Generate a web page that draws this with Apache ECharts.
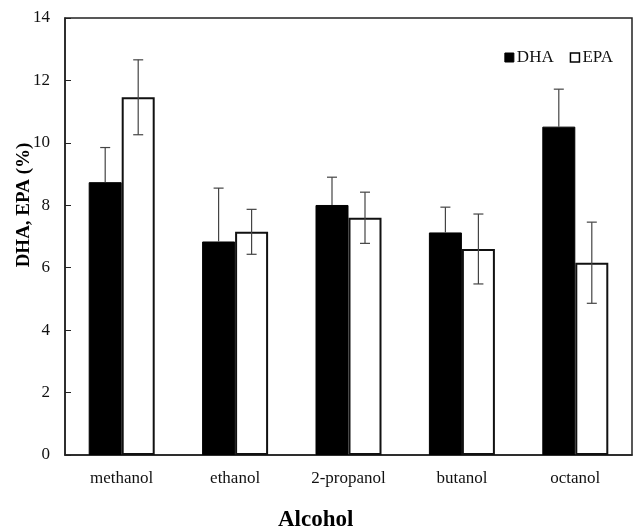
<!DOCTYPE html>
<html><head><meta charset="utf-8">
<script src="https://cdn.jsdelivr.net/npm/echarts@6/dist/echarts.min.js"></script>
<style>html,body{margin:0;padding:0;background:#fff}#c{width:633px;height:530px}</style>
</head><body><div id="c"></div>
<script>
var categories = ['methanol', 'ethanol', '2-propanol', 'butanol', 'octanol'];
var dha = [8.74, 6.84, 8.01, 7.13, 10.52];
var dhaErr = [1.11, 1.71, 0.89, 0.81, 1.2];
var epa = [11.46, 7.15, 7.6, 6.6, 6.16];
var epaErr = [1.2, 0.72, 0.82, 1.12, 1.3];
var yTicks = [0, 2, 4, 6, 8, 10, 12, 14];
var xTitle = 'Alcohol';
var yTitle = 'DHA, EPA (%)';

var font = 'Liberation Serif';
var chart = echarts.init(document.getElementById('c'));

function errSeries(vals, errs, idx, upperOnly) {
  return {
    type: 'custom',
    name: 'err' + idx,
    z: 10,
    data: vals.map(function (v, i) { return [i, v, errs[i]]; }),
    renderItem: function (params, api) {
      var i = api.value(0), v = api.value(1), e = api.value(2);
      var barW = 33;
      var cx = api.coord([i, 0])[0] + (idx === 0 ? -barW / 2 : barW / 2);
      var top = api.coord([i, v + e])[1];
      var bot = api.coord([i, upperOnly ? v : v - e])[1];
      var cap = 5;
      var st = { stroke: '#444', lineWidth: 1.2 };
      var ch = [
        { type: 'line', shape: { x1: cx, y1: top, x2: cx, y2: bot }, style: st },
        { type: 'line', shape: { x1: cx - cap, y1: top, x2: cx + cap, y2: top }, style: st }
      ];
      if (!upperOnly) ch.push({ type: 'line', shape: { x1: cx - cap, y1: bot, x2: cx + cap, y2: bot }, style: st });
      return { type: 'group', children: ch };
    }
  };
}

chart.setOption({
  animation: false,
  textStyle: { fontFamily: font },
  grid: { left: 65, right: 1, top: 18, bottom: 75, show: true, borderColor: '#222', borderWidth: 1.5 },
  legend: {
    right: 15, top: 44, itemWidth: 9, itemHeight: 9, itemGap: 16,
    textStyle: { fontFamily: font, fontSize: 17, color: '#111', padding: [0, 0, 0, -2] },
    data: [
      { name: 'DHA', icon: 'rect', itemStyle: { color: '#000', borderColor: '#000', borderWidth: 1 } },
      { name: 'EPA', icon: 'rect', itemStyle: { color: '#fff', borderColor: '#000', borderWidth: 1.5 } }
    ]
  },
  graphic: [
    { type: 'text', left: 318 - 40, top: 509, style: { text: xTitle, font: 'bold 23px "Liberation Serif"', fill: '#000' } },
    { type: 'text', x: 24, y: 205, rotation: Math.PI / 2,
      style: { text: yTitle, font: 'bold 19px "Liberation Serif"', fill: '#000', align: 'center', verticalAlign: 'middle' } }
  ],
  xAxis: {
    type: 'category', data: categories,
    axisLine: { lineStyle: { color: '#222', width: 1.5 } },
    axisTick: { inside: true, length: 6, lineStyle: { color: '#222' } },
    axisLabel: { fontFamily: font, fontSize: 17, color: '#111', margin: 15 }
  },
  yAxis: {
    type: 'value', min: yTicks[0], max: yTicks[yTicks.length - 1], interval: 2,
    axisLine: { show: true, lineStyle: { color: '#222', width: 1.5 } },
    axisTick: { show: true, inside: true, length: 6, lineStyle: { color: '#222' } },
    splitLine: { show: false },
    axisLabel: { fontFamily: font, fontSize: 17, color: '#111', margin: 15 }
  },
  series: [
    { name: 'DHA', type: 'bar', data: dha, barWidth: 33, barGap: '0%',
      itemStyle: { color: '#000', borderColor: '#000', borderWidth: 1 } },
    { name: 'EPA', type: 'bar', data: epa, barWidth: 33,
      itemStyle: { color: '#fff', borderColor: '#111', borderWidth: 2 } },
    errSeries(dha, dhaErr, 0, true),
    errSeries(epa, epaErr, 1, false)
  ]
});
</script></body></html>
